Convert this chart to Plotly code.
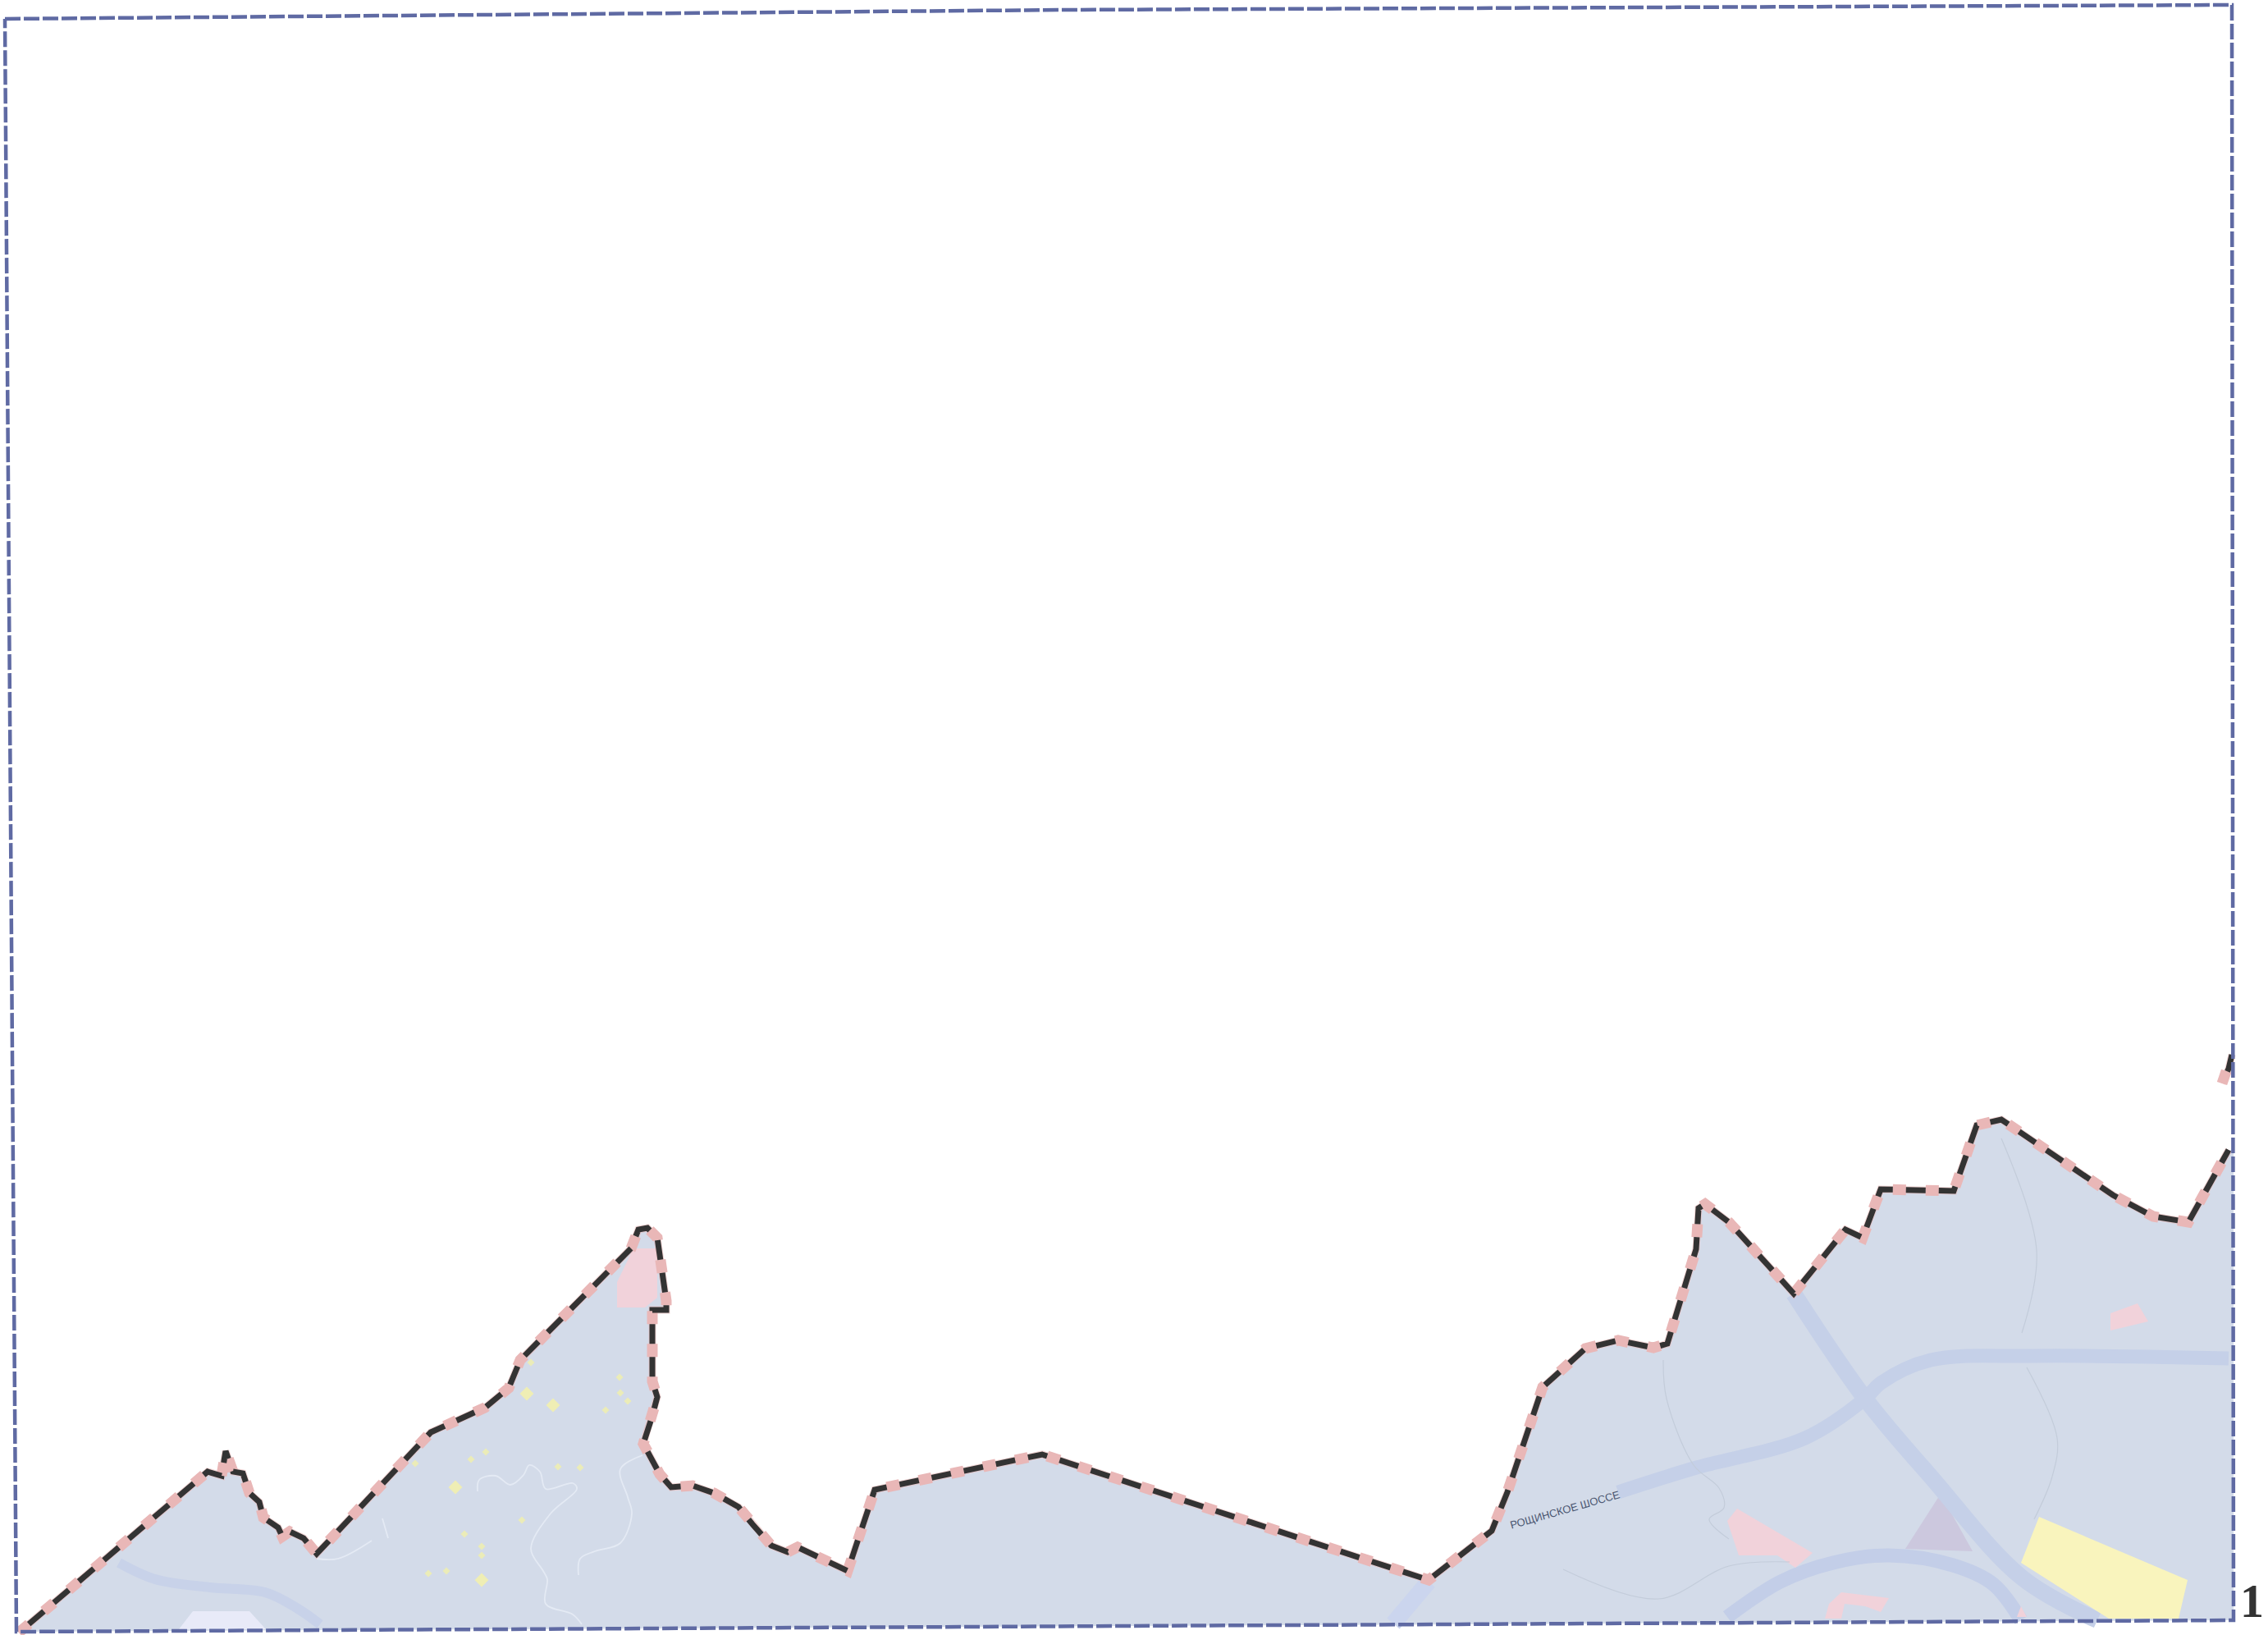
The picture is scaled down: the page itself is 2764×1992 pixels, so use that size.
import plotly.graph_objects as go

# Boundary of the district (image units)
boundary_x = [23, 253, 270, 275, 284, 296, 304, 316, 321, 339, 344, 353, 370, 386, 525, 591, 620, 634, 769, 778, 789, 801, 812, 812, 795, 795, 801, 795, 784, 804, 818, 844, 870, 900, 917, 940, 960, 972, 1033, 1066, 1270, 1741, 1818, 1837, 1880, 1932, 1972, 2015, 2032, 2067, 2070, 2078, 2107, 2186, 2249, 2270, 2292, 2381, 2409, 2439, 2575, 2624, 2667, 2716]
boundary_y = [1989, 1793, 1798, 1768, 1793, 1795, 1819, 1830, 1849, 1861, 1872, 1866, 1874, 1893, 1745, 1715, 1691, 1657, 1521, 1498, 1496, 1508, 1585, 1596, 1596, 1683, 1702, 1725, 1759, 1796, 1812, 1810, 1819, 1836, 1857, 1883, 1891, 1885, 1914, 1815, 1772, 1925, 1865, 1818, 1690, 1643, 1633, 1642, 1637, 1522, 1472, 1467, 1489, 1576, 1498, 1508, 1449, 1451, 1371, 1364, 1456, 1482, 1489, 1401]
land_close_x = [2722, 2722, 20]
land_close_y = [1401, 1974, 1988]
fragment_x = [2708, 2716, 2720]
fragment_y = [1320, 1302, 1285]

frame_x = [6, 1300, 2720, 2722, 20, 6]
frame_y = [23, 12, 6, 1974, 1988, 23]

# Roads
road_a_x = [2186, 2273, 2353, 2464, 2556]
road_a_y = [1576, 1704, 1799, 1922, 1974]
road_b_x = [2716, 2476, 2353, 2292, 2273, 2200, 2064, 1972]
road_b_y = [1655, 1652, 1657, 1685, 1704, 1752, 1789, 1818]
road_c_x = [2105, 2170, 2234, 2302, 2380, 2429, 2463]
road_c_y = [1970, 1927, 1904, 1895, 1907, 1930, 1974]
road_d_x = [1698, 1741]
road_d_y = [1978, 1927]
road_e_x = [145, 189, 256, 323, 363, 390]
road_e_y = [1904, 1924, 1934, 1940, 1960, 1979]

# Zones
zone_yellow_x = [2485, 2666, 2655, 2570, 2463]
zone_yellow_y = [1848, 1925, 1972, 1972, 1904]
zone_mauve_x = [2365, 2322, 2404]
zone_mauve_y = [1820, 1887, 1890]
zone_white_x = [218, 235, 304, 324]
zone_white_y = [1985, 1963, 1963, 1985]
pink_zones = [
    ([772, 801, 801, 786, 752, 752], [1521, 1521, 1581, 1593, 1593, 1562]),
    ([2117, 2209, 2188, 2166, 2119, 2105], [1838, 1892, 1910, 1895, 1895, 1853]),
    ([2605, 2618, 2572, 2572], [1588, 1610, 1621, 1600]),
    ([2244, 2302, 2292, 2273, 2248, 2244, 2224, 2229], [1940, 1947, 1964, 1957, 1954, 1972, 1972, 1954]),
    ([2458, 2463, 2470], [1970, 1957, 1970]),
]

# Small yellow plots
plots_big_x = [642, 674, 555, 587]
plots_big_y = [1698, 1712, 1812, 1925]
plots_small_x = [574, 592, 680, 707, 755, 756, 765, 738, 636, 566, 587, 587, 522, 544, 506, 647]
plots_small_y = [1778, 1769, 1787, 1788, 1678, 1697, 1707, 1718, 1852, 1869, 1884, 1895, 1917, 1914, 1783, 1660]

# Streams and thin lines
streams = [
    ([582, 584, 604, 622, 638, 645, 658, 665, 698, 703, 671, 647, 662, 667, 665, 698, 709],
     [1817, 1803, 1798, 1809, 1797, 1785, 1793, 1814, 1807, 1814, 1844, 1887, 1914, 1924, 1954, 1967, 1979]),
    ([783, 756, 765, 770, 756, 725, 707, 705], [1773, 1790, 1824, 1844, 1880, 1890, 1899, 1919]),
    ([386, 412, 453], [1899, 1899, 1877]),
    ([466, 473], [1850, 1874]),
]
thin_lines = [
    ([2027, 2031, 2064, 2095, 2101, 2083, 2107], [1657, 1704, 1785, 1813, 1837, 1851, 1875]),
    ([1905, 2021, 2107, 2181], [1912, 1948, 1908, 1903]),
    ([2470, 2507, 2501, 2479], [1666, 1752, 1799, 1851]),
    ([2439, 2482, 2464], [1387, 1524, 1624]),
]

road_name = "РОЩИНСКОЕ ШОССЕ"
sheet_number = "1"

fig = go.Figure()


def line(x, y, color, width, dash="solid", opacity=1.0, shape="linear"):
    fig.add_trace(go.Scatter(x=x, y=y, mode="lines", opacity=opacity,
                             line=dict(color=color, width=width, dash=dash, shape=shape),
                             hoverinfo="skip", showlegend=False))


def area(x, y, color):
    fig.add_trace(go.Scatter(x=x, y=y, mode="lines", fill="toself", fillcolor=color,
                             line=dict(width=0, color=color),
                             hoverinfo="skip", showlegend=False))


area(boundary_x + land_close_x, boundary_y + land_close_y, "#d3dbe9")
area(zone_white_x, zone_white_y, "#e8eaf8")
area(zone_mauve_x, zone_mauve_y, "#ccc8de")
line(road_a_x, road_a_y, "#c5d0e8", 20, shape="spline")
line(road_b_x, road_b_y, "#c5d0e8", 17, shape="spline")
line(road_c_x, road_c_y, "#c3cee8", 17, shape="spline")
line(road_d_x, road_d_y, "#cbd5ee", 20)
line(road_e_x, road_e_y, "#c8d2e9", 12, shape="spline")
area(zone_yellow_x, zone_yellow_y, "#f9f4bd")
for px, py in pink_zones:
    area(px, py, "#f1d2da")
for sx, sy in streams:
    line(sx, sy, "#e4eaf4", 1.8, shape="spline")
for tx, ty in thin_lines:
    line(tx, ty, "#c3ccda", 1.2, shape="spline")
fig.add_trace(go.Scatter(x=plots_big_x, y=plots_big_y, mode="markers",
                         marker=dict(color="#efeeb4", size=13, symbol="diamond", line=dict(width=0)),
                         hoverinfo="skip", showlegend=False))
fig.add_trace(go.Scatter(x=plots_small_x, y=plots_small_y, mode="markers",
                         marker=dict(color="#ebecb8", size=7, symbol="diamond", line=dict(width=0)),
                         hoverinfo="skip", showlegend=False))

for bx, by in ((boundary_x, boundary_y), (fragment_x, fragment_y)):
    line(bx, by, "#ebbcbc", 9, opacity=0.6)
    line(bx, by, "#e9b7b7", 13, dash="16px,24px")
    line(bx, by, "#333333", 7, dash="0px,16px,24px,0px")

line(frame_x, frame_y, "#5f6aa3", 4.5, dash="19px,4px")

fig.add_annotation(x=1907, y=1839, text=road_name, textangle=-16, showarrow=False,
                   font=dict(family="Liberation Sans", size=13, color="#4a5570"))
fig.add_annotation(x=2744, y=1950, text=f"<b>{sheet_number}</b>", showarrow=False,
                   font=dict(family="Liberation Serif", size=58, color="#333333"))

fig.update_layout(
    width=2764, height=1992,
    margin=dict(l=0, r=0, t=0, b=0),
    paper_bgcolor="white", plot_bgcolor="white",
    showlegend=False,
    xaxis=dict(range=[0, 2764], visible=False, fixedrange=True),
    yaxis=dict(range=[1992, 0], visible=False, fixedrange=True),
)

fig.write_html("out.html", config={"displayModeBar": False},
               post_script="document.body.style.margin='0';")
